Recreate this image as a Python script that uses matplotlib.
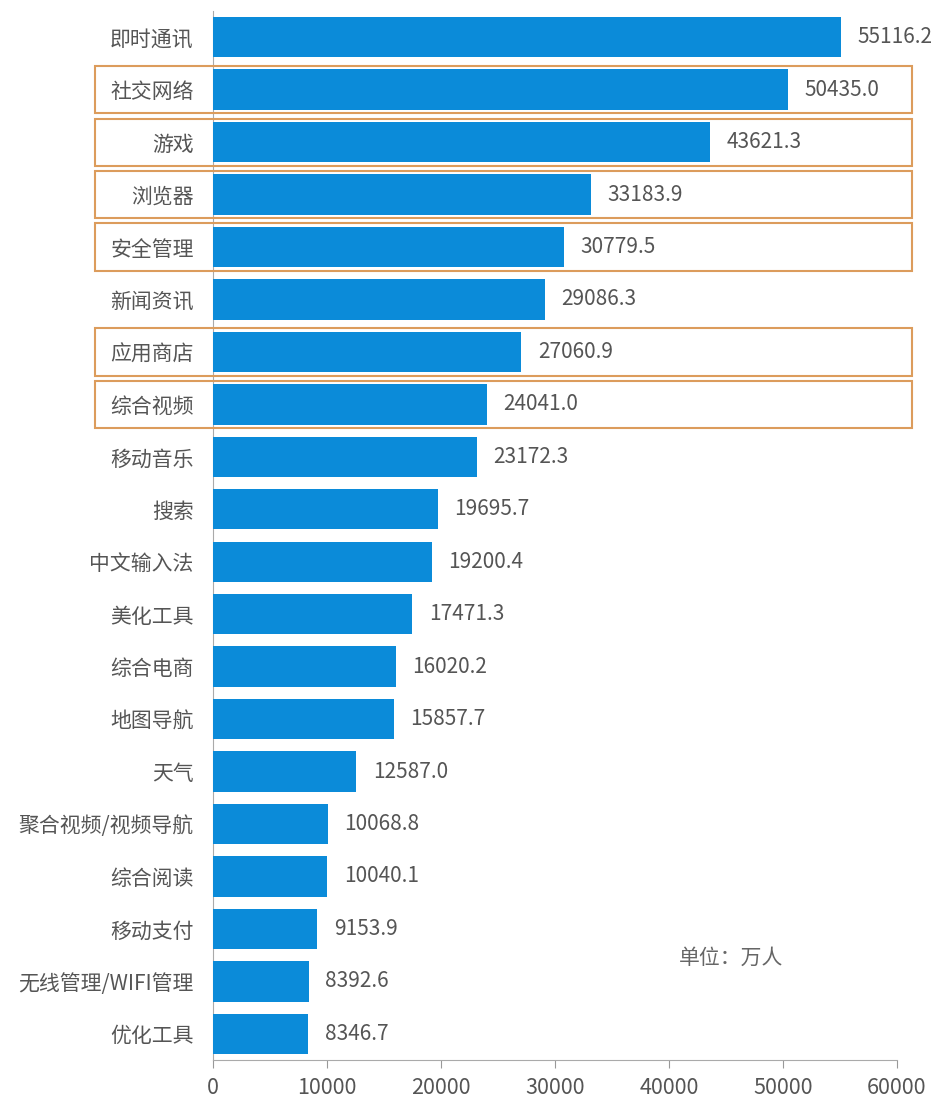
import matplotlib
matplotlib.use("Agg")
import matplotlib.pyplot as plt
from matplotlib.patches import Rectangle
from matplotlib.transforms import blended_transform_factory

plt.rcParams['font.family'] = ['Noto Sans CJK SC', 'DejaVu Sans']

categories = ["即时通讯", "社交网络", "游戏", "浏览器", "安全管理", "新闻资讯", "应用商店",
              "综合视频", "移动音乐", "搜索", "中文输入法", "美化工具", "综合电商", "地图导航",
              "天气", "聚合视频/视频导航", "综合阅读", "移动支付", "无线管理/WIFI管理", "优化工具"]
values = [55116.2, 50435.0, 43621.3, 33183.9, 30779.5, 29086.3, 27060.9,
          24041.0, 23172.3, 19695.7, 19200.4, 17471.3, 16020.2, 15857.7,
          12587.0, 10068.8, 10040.1, 9153.9, 8392.6, 8346.7]
highlighted = ["社交网络", "游戏", "浏览器", "安全管理", "应用商店", "综合视频"]
xticks = [0, 10000, 20000, 30000, 40000, 50000, 60000]

W, H = 941, 1101
fig = plt.figure(figsize=(W / 100, H / 100), dpi=100)
ax = fig.add_axes([213 / W, 41 / H, (897 - 213) / W, (1090 - 41) / H])

ypos = list(range(len(categories)))
ax.barh(ypos, values, height=0.77, color='#0b8bd9', zorder=3)
ax.set_ylim(len(categories) - 0.5, -0.5)
ax.set_xlim(0, 60000)
ax.set_yticks(ypos)
ax.set_yticklabels(categories, fontsize=15, color='#555555')
ax.tick_params(axis='y', length=0, pad=14)
ax.set_xticks(xticks)
ax.set_xticklabels([str(t) for t in xticks], fontsize=15.5, color='#555555')
ax.tick_params(axis='x', length=6, color='#999999', pad=6)

for s in ['top', 'right']:
    ax.spines[s].set_visible(False)
ax.spines['left'].set_color('#aaaaaa')
ax.spines['bottom'].set_color('#aaaaaa')

for y, v in zip(ypos, values):
    ax.text(v + 1450, y, f"{v:.1f}", va='center', ha='left', fontsize=15, color='#555555')

trans = blended_transform_factory(fig.transFigure, ax.transData)
for y, c in zip(ypos, categories):
    if c in highlighted:
        r = Rectangle((95 / W, y - 0.45), (912 - 95) / W, 0.9, transform=trans,
                      fill=False, edgecolor='#dc9c5c', linewidth=1.5, clip_on=False, zorder=4)
        fig.add_artist(r)

fig.text(731 / W, 1 - 958 / H, "单位：万人", ha='center', va='center', fontsize=15, color='#666666')

fig.savefig("out.png", dpi=100)
